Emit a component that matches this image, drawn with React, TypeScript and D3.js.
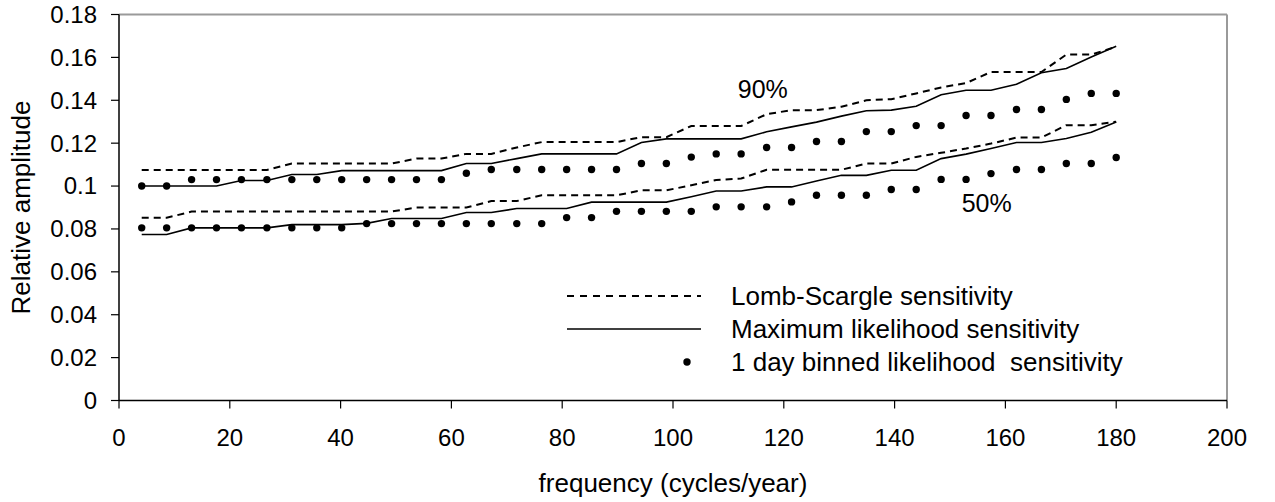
import React from "react";
import * as d3 from "d3";

const freq = [4.1, 8.6, 13.1, 17.6, 22.1, 26.7, 31.2, 35.7, 40.2, 44.7, 49.2, 53.7, 58.2, 62.7, 67.2, 71.8, 76.3, 80.8, 85.3, 89.8, 94.3, 98.8, 103.3, 107.8, 112.3, 116.9, 121.4, 125.9, 130.4, 134.9, 139.4, 143.9, 148.4, 152.9, 157.4, 162.0, 166.5, 171.0, 175.5, 180.0];

const lombScargle90 = [0.1075, 0.1075, 0.1075, 0.1075, 0.1075, 0.1075, 0.1105, 0.1105, 0.1105, 0.1105, 0.1105, 0.1128, 0.1128, 0.115, 0.115, 0.118, 0.1205, 0.1205, 0.1205, 0.1205, 0.1228, 0.1228, 0.128, 0.128, 0.128, 0.1335, 0.1354, 0.1354, 0.137, 0.14, 0.1405, 0.1432, 0.146, 0.148, 0.1532, 0.1532, 0.1532, 0.1613, 0.1613, 0.165];
const maxLik90 = [0.1, 0.1, 0.1, 0.1, 0.1026, 0.1026, 0.1054, 0.1054, 0.1072, 0.1072, 0.1072, 0.1072, 0.1072, 0.1105, 0.1105, 0.1128, 0.115, 0.115, 0.115, 0.115, 0.1203, 0.122, 0.122, 0.122, 0.122, 0.1253, 0.1276, 0.1298, 0.1326, 0.1351, 0.1354, 0.1372, 0.1426, 0.1447, 0.1447, 0.1475, 0.1528, 0.1548, 0.1602, 0.1652];
const binned90 = [0.1, 0.1, 0.103, 0.103, 0.103, 0.103, 0.103, 0.103, 0.103, 0.103, 0.103, 0.103, 0.103, 0.106, 0.1077, 0.1077, 0.1077, 0.1077, 0.1077, 0.1077, 0.1105, 0.1105, 0.1135, 0.115, 0.115, 0.118, 0.118, 0.1208, 0.1208, 0.1254, 0.1254, 0.1282, 0.1282, 0.1329, 0.1329, 0.1357, 0.1357, 0.1404, 0.1432, 0.1432];

const lombScargle50 = [0.0852, 0.0852, 0.0881, 0.0881, 0.0881, 0.0881, 0.0881, 0.0881, 0.0881, 0.0881, 0.0881, 0.09, 0.09, 0.09, 0.093, 0.093, 0.0957, 0.0957, 0.0957, 0.0957, 0.098, 0.098, 0.1004, 0.1028, 0.1035, 0.1076, 0.1076, 0.1076, 0.1076, 0.1105, 0.1105, 0.1136, 0.1155, 0.1175, 0.1198, 0.1226, 0.1226, 0.1284, 0.1284, 0.13];
const maxLik50 = [0.0774, 0.0774, 0.0805, 0.0805, 0.0805, 0.0805, 0.082, 0.082, 0.082, 0.0826, 0.0849, 0.0849, 0.0849, 0.0877, 0.0877, 0.0895, 0.0895, 0.0895, 0.0925, 0.0925, 0.0925, 0.0925, 0.095, 0.0977, 0.0977, 0.0996, 0.0996, 0.1024, 0.105, 0.105, 0.1074, 0.1074, 0.1128, 0.1149, 0.1175, 0.1203, 0.1203, 0.1222, 0.1251, 0.1299];
const binned50 = [0.0805, 0.0805, 0.0805, 0.0805, 0.0805, 0.0805, 0.0805, 0.0805, 0.0805, 0.0825, 0.0825, 0.0825, 0.0825, 0.0825, 0.0825, 0.0825, 0.0825, 0.0853, 0.0853, 0.0882, 0.0882, 0.0882, 0.0882, 0.0903, 0.0903, 0.0903, 0.0926, 0.0957, 0.0957, 0.0957, 0.0984, 0.0984, 0.1031, 0.1031, 0.1058, 0.1077, 0.1077, 0.1105, 0.1105, 0.1133];

const xTicks = [0, 20, 40, 60, 80, 100, 120, 140, 160, 180, 200];
const yTicks = [0, 0.02, 0.04, 0.06, 0.08, 0.1, 0.12, 0.14, 0.16, 0.18];
const yTickLabels = ["0", "0.02", "0.04", "0.06", "0.08", "0.1", "0.12", "0.14", "0.16", "0.18"];

const legendItems = ["Lomb-Scargle sensitivity", "Maximum likelihood sensitivity", "1 day binned likelihood  sensitivity"];
const curveLabels = [
  { text: "90%", f: 111.7, v: 0.141 },
  { text: "50%", f: 152.1, v: 0.088 },
];

const W = 1275;
const H = 502;
const FONT = "'Liberation Sans', Arial, sans-serif";
const FS_TICK = 24;
const FS_TEXT = 26;

export default function App() {
  const x = d3.scaleLinear().domain([0, 200]).range([119, 1227]);
  const y = d3.scaleLinear().domain([0, 0.18]).range([400.5, 14.5]);
  const line = (vals: number[]) =>
    d3.line<number>().x((_, i) => x(freq[i])).y((d) => y(d))(vals) || "";

  const [x0, x1] = x.range();
  const [yb, yt] = y.range();
  const legX0 = 567;
  const legX1 = 701;
  const legRows = [296, 329, 362];

  return (
    <svg width={W} height={H} style={{ position: "absolute", left: 0, top: 0, background: "#fff" }} fontFamily={FONT}>
      <rect x={0} y={0} width={W} height={H} fill="#fff" />
      <line x1={x0} y1={yt} x2={x1} y2={yt} stroke="#9a9a9a" strokeWidth={2} />
      <line x1={x1} y1={yt} x2={x1} y2={yb} stroke="#9a9a9a" strokeWidth={2} />
      <line x1={x0} y1={yt} x2={x0} y2={yb} stroke="#000" strokeWidth={1.5} />
      <line x1={x0} y1={yb} x2={x1} y2={yb} stroke="#000" strokeWidth={1.5} />
      {yTicks.map((t, i) => (
        <g key={"yt" + i}>
          <line x1={x0 - 8} x2={x0} y1={y(t)} y2={y(t)} stroke="#000" strokeWidth={1.2} />
          <text x={97} y={y(t)} dy="0.35em" textAnchor="end" fontSize={FS_TICK} fill="#000">
            {yTickLabels[i]}
          </text>
        </g>
      ))}
      {xTicks.map((t, i) => (
        <g key={"xt" + i}>
          <line x1={x(t)} x2={x(t)} y1={yb} y2={yb + 8} stroke="#000" strokeWidth={1.2} />
          <text x={x(t)} y={446} textAnchor="middle" fontSize={FS_TICK} fill="#000">
            {t}
          </text>
        </g>
      ))}
      <text x={(x0 + x1) / 2} y={492} textAnchor="middle" fontSize={FS_TEXT} fill="#000">
        frequency (cycles/year)
      </text>
      <text
        transform={`translate(30,${(yt + yb) / 2}) rotate(-90)`}
        textAnchor="middle"
        fontSize={FS_TEXT}
        fill="#000"
      >
        Relative amplitude
      </text>

      <path d={line(lombScargle90)} fill="none" stroke="#000" strokeWidth={2} strokeDasharray="7,5" />
      <path d={line(lombScargle50)} fill="none" stroke="#000" strokeWidth={2} strokeDasharray="7,5" />
      <path d={line(maxLik90)} fill="none" stroke="#000" strokeWidth={1.6} />
      <path d={line(maxLik50)} fill="none" stroke="#000" strokeWidth={1.6} />
      {binned90.map((v, i) => (
        <circle key={"b90" + i} cx={x(freq[i])} cy={y(v)} r={3.7} fill="#000" />
      ))}
      {binned50.map((v, i) => (
        <circle key={"b50" + i} cx={x(freq[i])} cy={y(v)} r={3.7} fill="#000" />
      ))}

      {curveLabels.map((c) => (
        <text key={c.text} x={x(c.f)} y={y(c.v)} fontSize={25} fill="#000">
          {c.text}
        </text>
      ))}

      <line x1={legX0} x2={legX1} y1={legRows[0]} y2={legRows[0]} stroke="#000" strokeWidth={2} strokeDasharray="7,6" />
      <line x1={legX0} x2={legX1} y1={legRows[1]} y2={legRows[1]} stroke="#000" strokeWidth={1.6} />
      <circle cx={687} cy={legRows[2]} r={3.7} fill="#000" />
      {legendItems.map((t, i) => (
        <text key={t} x={731} y={legRows[i]} dy="0.35em" fontSize={FS_TEXT} fill="#000" style={{ whiteSpace: "pre" }}>
          {t}
        </text>
      ))}
    </svg>
  );
}
